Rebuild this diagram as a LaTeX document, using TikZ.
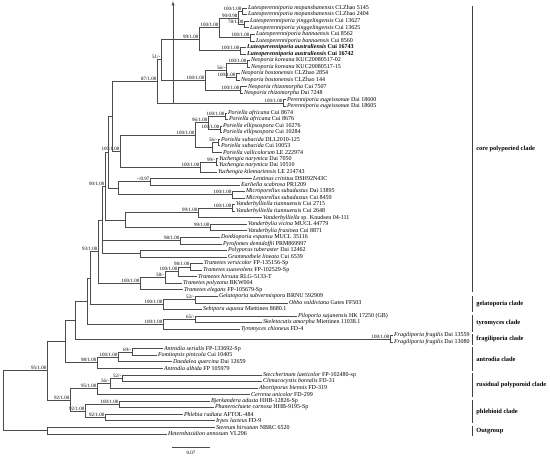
\documentclass[tikz,border=0pt]{standalone}
\usepackage{fontspec}
\setmainfont{Liberation Serif}
\usetikzlibrary{calc}
\tikzset{
 br/.style={draw=black!70, line width=0.45pt},
 tx/.style={anchor=west, inner sep=0.8pt, font=\fontsize{6.0}{6.5}\selectfont},
 sup/.style={anchor=south east, inner sep=0.5pt, font=\fontsize{5.0}{5.5}\selectfont},
 cl/.style={anchor=west, inner sep=0pt, font=\fontsize{6.4}{7}\selectfont\bfseries},
 bar/.style={draw=black!75, line width=0.8pt},
}
\newcommand\tip[4]{\coordinate (#1) at (#2,#3); \node[tx] (L#1) at (#1) {#4};}
\newcommand\taxon[2]{\textit{#1}~#2}
\newcommand\jn[5]{\coordinate (tmp) at ($(#3)!0.5!(#4)$);\coordinate (#1) at (#2,0 |- tmp);\draw[br] (#1) |- (#3);\draw[br] (#1) |- (#4);\node[sup] (S#1) at (#1) {#5};}
\newcommand\jnn[6]{\coordinate (tmp) at ($(#3)!0.5!(#5)$);\coordinate (#1) at (#2,0 |- tmp);\draw[br] (#1) |- (#3);\draw[br] (#1) |- (#4);\draw[br] (#1) |- (#5);\node[sup] (S#1) at (#1) {#6};}
\begin{document}
\begin{tikzpicture}[x=1pt,y=-6.55pt]
\useasboundingbox (0,-0.2214) rectangle (550,69.855);
\tip{t1}{247}{1}{\taxon{Luteoperenniporia mopanshanensis}{CLZhao 5145}}
\tip{t2}{247}{2}{\taxon{Luteoperenniporia mopanshanensis}{CLZhao 2404}}
\tip{t3}{249}{3}{\taxon{Luteoperenniporia yinggelingensis}{Cui 13627}}
\tip{t4}{249}{4}{\taxon{Luteoperenniporia yinggelingensis}{Cui 13625}}
\tip{t5}{255}{5}{\taxon{Luteoperenniporia bannaensis}{Cui 8562}}
\tip{t6}{255}{6}{\taxon{Luteoperenniporia bannaensis}{Cui 8560}}
\tip{t7}{246}{7}{\textbf{\taxon{Luteoperenniporia australiensis}{Cui 16743}}}
\tip{t8}{246}{8}{\textbf{\taxon{Luteoperenniporia australiensis}{Cui 16742}}}
\tip{t9}{250}{9}{\taxon{Neoporia koreana}{KUC20080517-02}}
\tip{t10}{250}{10}{\taxon{Neoporia koreana}{KUC20080517-15}}
\tip{t11}{240}{11}{\taxon{Neoporia bostonensis}{CLZhao 2854}}
\tip{t12}{240}{12}{\taxon{Neoporia bostonensis}{CLZhao 144}}
\tip{t13}{247}{13}{\taxon{Neoporia rhizomorpha}{Cui 7507}}
\tip{t14}{243}{14}{\taxon{Neoporia rhizomorpha}{Dai 7248}}
\tip{t15}{286}{15}{\taxon{Perenniporia eugeissonae}{Dai 18600}}
\tip{t16}{286}{16}{\taxon{Perenniporia eugeissonae}{Dai 18605}}
\tip{t17}{227}{17}{\taxon{Poriella africana}{Cui 8674}}
\tip{t18}{228}{18}{\taxon{Poriella africana}{Cui 8676}}
\tip{t19}{222}{19}{\taxon{Poriella ellipsospora}{Cui 10276}}
\tip{t20}{222}{20}{\taxon{Poriella ellipsospora}{Cui 10284}}
\tip{t21}{220}{21}{\taxon{Poriella subacida}{DLL2010-125}}
\tip{t22}{220}{22}{\taxon{Poriella subacida}{Cui 10053}}
\tip{t23}{222}{23}{\taxon{Poriella vallicolorum}{LE 222974}}
\tip{t24}{218}{24}{\taxon{Yuchengia narymica}{Dai 7050}}
\tip{t25}{218}{25}{\taxon{Yuchengia narymica}{Dai 10510}}
\tip{t26}{217}{26}{\taxon{Yuchengia kilemariensis}{LE 214743}}
\tip{t27}{252}{27}{\taxon{Lentinus crinitus}{DSH92N43C}}
\tip{t28}{240}{28}{\taxon{Earliella scabrosa}{PR1209}}
\tip{t29}{245}{29}{\taxon{Microporellus subadustus}{Dai 13895}}
\tip{t30}{245}{30}{\taxon{Microporellus subadustus}{Cui 8459}}
\tip{t31}{235}{31}{\taxon{Vanderbylliella tiannuensis}{Cui 2715}}
\tip{t32}{235}{32}{\taxon{Vanderbylliella tiannuensis}{Cui 2648}}
\tip{t33}{262}{33}{\taxon{Vanderbylliella}{sp. Knudsen 04-111}}
\tip{t34}{247}{34}{\taxon{Vanderbylia vicina}{MUCL 44779}}
\tip{t35}{247}{35}{\taxon{Vanderbylia fraxinea}{Cui 8871}}
\tip{t36}{220}{36}{\taxon{Donkioporia expansa}{MUCL 35116}}
\tip{t37}{222}{37}{\taxon{Pyrofomes demidoffii}{PRM869997}}
\tip{t38}{227}{38}{\taxon{Polyporus tuberaster}{Dai 12462}}
\tip{t39}{227}{39}{\taxon{Grammothele lineata}{Cui 6539}}
\tip{t40}{203}{40}{\taxon{Trametes versicolor}{FP-135156-Sp}}
\tip{t41}{202}{41}{\taxon{Trametes suaveolens}{FP-102529-Sp}}
\tip{t42}{197}{42}{\taxon{Trametes hirsuta}{RLG-5133-T}}
\tip{t43}{182}{43}{\taxon{Trametes polyzona}{BKW004}}
\tip{t44}{183}{44}{\taxon{Trametes elegans}{FP-105679-Sp}}
\tip{t45}{218}{45}{\taxon{Gelatoporia subvermispora}{BRNU 592909}}
\tip{t46}{288}{46}{\taxon{Obba valdiviana}{Gates FF503}}
\tip{t47}{202}{47}{\taxon{Sebipora aquosa}{Miettinen 8680.1}}
\tip{t48}{297}{48}{\taxon{Piloporia sajanensis}{HK 17250 (GB)}}
\tip{t49}{262}{49}{\taxon{Skeletocutis amorpha}{Miettinen 11038.1}}
\tip{t50}{240}{50}{\taxon{Tyromyces chioneus}{FD-4}}
\tip{t51}{393}{51}{\taxon{Fragiliporia fragilis}{Dai 13559}}
\tip{t52}{393}{52}{\taxon{Fragiliporia fragilis}{Dai 13080}}
\tip{t53}{163}{53}{\taxon{Antrodia serialis}{FP-133692-Sp}}
\tip{t54}{157}{54}{\taxon{Fomitopsis pinicola}{Cui 10405}}
\tip{t55}{172}{55}{\taxon{Daedalea quercina}{Dai 12659}}
\tip{t56}{163}{56}{\taxon{Antrodia albida}{FP 105979}}
\tip{t57}{262}{57}{\taxon{Steccherinum laeticolor}{FP-102480-sp}}
\tip{t58}{262}{58}{\taxon{Climacocystis borealis}{FD-31}}
\tip{t59}{258}{59}{\taxon{Abortiporus biennis}{FD-319}}
\tip{t60}{250}{60}{\taxon{Cerrena unicolor}{FD-299}}
\tip{t61}{210}{61}{\taxon{Bjerkandera adusta}{HHB-12826-Sp}}
\tip{t62}{214}{62}{\taxon{Phanerochaete carnosa}{HHB-9195-Sp}}
\tip{t63}{183}{63}{\taxon{Phlebia radiata}{AFTOL-484}}
\tip{t64}{215}{64}{\taxon{Irpex lacteus}{FD-9}}
\tip{t65}{215}{65}{\taxon{Stereum hirsutum}{NBRC 6520}}
\tip{t66}{167}{66}{\taxon{Heterobasidion annosum}{VL296}}
% internal nodes
\jn{nA}{242}{t1}{t2}{100/1.00}
\jn{nC}{244}{t3}{t4}{78/1.00}
\jn{nB}{238}{nA}{nC}{90/0.98}
\jn{nD}{250}{t5}{t6}{100/1.00}
\jn{nE}{219}{nB}{nD}{100/1.00}
\jn{nF}{240}{t7}{t8}{100/1.00}
\jn{nG}{199}{nE}{nF}{99/1.00}
\jn{nH}{247}{t9}{t10}{100/1.00}
\jn{nI}{236}{t11}{t12}{100/1.00}
\jn{nJ}{226}{nH}{nI}{56/-}
\jn{nK}{240}{t13}{t14}{100/1.00}
\jn{nL}{205}{nJ}{nK}{100/1.00}
\jn{nM}{161}{nG}{nL}{51/-}
\jn{nN}{283}{t15}{t16}{100/1.00}
\jn{nO}{157}{nM}{nN}{87/1.00}
\jn{nP}{225}{t17}{t18}{100/1.00}
\jn{nQ}{220}{t19}{t20}{100/1.00}
\jn{nR}{208}{nP}{nQ}{96/1.00}
\jn{nS}{218}{t21}{t22}{56/-}
\jn{nT}{212}{nS}{t23}{}
\jn{nU}{195}{nR}{nT}{100/1.00}
\jn{nV}{216}{t24}{t25}{99/-}
\jn{nW}{200}{nV}{t26}{100/1.00}
\jn{nX}{120}{nU}{nW}{100/1.00}
\jn{nY}{112}{nO}{nX}{}
\jn{nLE}{150}{t27}{t28}{-/0.97}
\jn{nMi}{232}{t29}{t30}{100/1.00}
\jn{nLM}{118}{nLE}{nMi}{}
\jn{nVa}{232}{t31}{t32}{100/1.00}
\jn{nVb}{198}{nVa}{t33}{99/1.00}
\jn{nVc}{210}{t34}{t35}{99/1.00}
\jn{nVd}{125}{nVb}{nVc}{}
\jn{nDP}{180}{t36}{t37}{98/1.00}
\jn{nPG}{140}{t38}{t39}{}
\jn{nT1}{190}{t40}{t41}{98/1.00}
\jn{nT2}{178}{nT1}{t42}{100/1.00}
\jn{nT3}{165}{nT2}{t43}{58/-}
\jn{nT4}{140}{nT3}{t44}{100/1.00}
\jn{nC1}{108}{nY}{nLM}{}
\jn{nC2}{105}{nC1}{nVd}{90/1.00}
\jnn{nC3}{102}{nC2}{nDP}{nPG}{}
\jn{nCore}{98}{nC3}{nT4}{93/1.00}
\jn{nGe1}{195}{t45}{t46}{52/-}
\jn{nGe}{163}{nGe1}{t47}{100/1.00}
\jn{nTy1}{195}{t48}{t49}{65/-}
\jn{nTy}{163}{nTy1}{t50}{100/1.00}
\jn{nFr}{390}{t51}{t52}{100/1.00}
\jn{nUp1}{90}{nCore}{nGe}{}
\jn{nUp2}{87}{nUp1}{nTy}{}
\jn{nUp3}{75}{nUp2}{nFr}{}
\jn{nAn1}{132}{t53}{t54}{69/-}
\jn{nAn2}{118}{nAn1}{t55}{100/1.00}
\jn{nAn}{97}{nAn2}{t56}{98/1.00}
\jn{nU65}{65}{nUp3}{nAn}{}
\jn{nRe1}{122}{t57}{t58}{52/-}
\jn{nRe2}{110}{nRe1}{t59}{56/-}
\jn{nRe}{97}{nRe2}{t60}{95/1.00}
\jn{nPh1}{119}{t61}{t62}{100/1.00}
\jn{nPh2}{105}{t63}{t64}{92/1.00}
\jn{nPh}{85}{nPh1}{nPh2}{92/1.00}
\jn{nRP}{70}{nRe}{nPh}{92/1.00}
\jn{nIG}{47}{nU65}{nRP}{95/1.00}
\jn{nOut}{47}{t65}{t66}{}
\jn{root}{3}{nIG}{nOut}{}
% top arrow
\coordinate (arB) at (173,0 |- nN);
\coordinate (arT) at (173,-0.05);
\draw[br,-latex] (arB) -- (arT);
% clade bars
\draw[bar] (472,0.7) -- (472,44.4) node[cl,midway,xshift=4pt] (c1) {core polyporied clade};
\draw[bar] (472,44.9) -- (472,47.4) node[cl,midway,xshift=4pt] (c2) {gelatoporia clade};
\draw[bar] (472,47.9) -- (472,50.4) node[cl,midway,xshift=4pt] (c3) {tyromyces clade};
\draw[bar] (472,50.8) -- (472,52.4) node[cl,midway,xshift=4pt] (c4) {fragiliporia clade};
\draw[bar] (472,52.8) -- (472,56.4) node[cl,midway,xshift=4pt] (c5) {antrodia clade};
\draw[bar] (472,56.8) -- (472,60.4) node[cl,midway,xshift=4pt] (c6) {rusidual polyporoid clade};
\draw[bar] (472,60.8) -- (472,64.4) node[cl,midway,xshift=4pt] (c7) {phlebioid clade};
\draw[bar] (472,64.8) -- (472,66.4) node[cl,midway,xshift=4pt] (c8) {Outgroup};
% scale bar
\coordinate (sbL) at (172,68);
\coordinate (sbR) at (210,68);
\draw[br] (sbL) -- (sbR) node[midway,below=0.5pt,font=\fontsize{5.0}{5.5}\selectfont] (sbT) {0.07};
\end{tikzpicture}
\end{document}
